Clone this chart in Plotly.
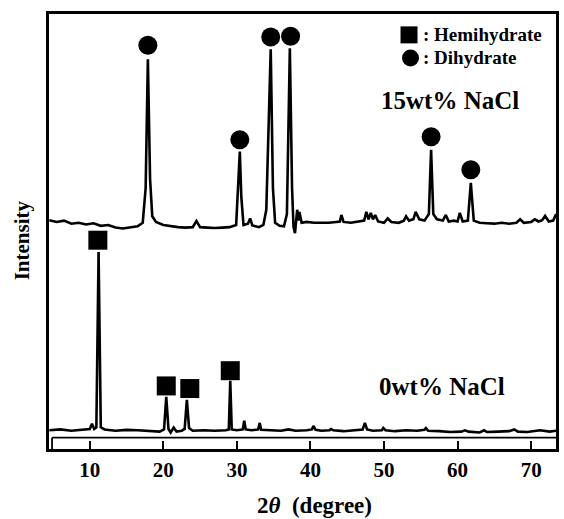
import plotly.graph_objects as go

# ---- data (2theta in degrees, intensity in arbitrary units) ----
top_x = [4.5, 5.5, 6.5, 7.5, 8.5, 9.5, 10.5, 11.5, 12.5, 13.5, 14.5, 15.5, 16.5, 17.2, 17.6, 17.9, 18.2, 18.5,
         19.0, 20.0, 21.0, 22.0, 23.0, 24.0, 24.5, 25.0, 26.0, 27.0, 28.0, 29.0, 29.9, 30.2, 30.4, 30.6, 30.9,
         31.5, 31.8, 32.1, 33.0, 33.6, 34.0, 34.6, 34.9, 35.2, 35.8, 36.4, 36.8, 37.2, 37.5, 37.7, 37.9, 38.2,
         38.35, 38.5, 38.8, 39.5, 40.5, 41.5, 42.5, 43.5, 44.0, 44.2, 44.5, 45.5, 46.5, 47.3, 47.6, 47.9, 48.2,
         48.5, 48.8, 49.2, 50.0, 50.5, 51.0, 52.0, 52.7, 53.0, 53.4, 54.0, 54.3, 54.8, 55.5, 56.1, 56.4, 56.7,
         57.2, 58.0, 58.4, 58.8, 59.5, 60.0, 60.3, 60.7, 61.4, 61.8, 62.2, 63.0, 64.0, 65.0, 66.0, 67.0, 68.0,
         68.5, 69.0, 70.0, 70.5, 71.0, 71.5, 71.9, 72.4, 73.0, 73.4]
top_y = [52.6, 52.2, 52.5, 51.8, 52.0, 51.6, 51.9, 51.3, 51.5, 50.9, 50.7, 51.0, 51.2, 52.0, 60.0, 89.6, 62.0, 53.5,
         52.2, 51.5, 51.2, 51.0, 50.9, 51.0, 52.4, 51.0, 50.9, 50.8, 50.9, 51.0, 51.5, 60.0, 68.4, 58.0, 51.5,
         51.8, 53.0, 51.4, 51.0, 51.5, 55.0, 91.9, 60.0, 52.0, 51.3, 51.2, 54.0, 92.1, 60.0, 51.0, 49.6, 55.0,
         52.5, 54.5, 52.0, 52.2, 52.0, 52.0, 52.0, 52.2, 52.3, 53.8, 52.2, 52.0, 52.2, 52.5, 54.5, 52.8, 54.3,
         52.8, 53.8, 52.3, 52.0, 53.0, 52.2, 52.0, 52.5, 53.5, 52.5, 52.8, 54.5, 52.8, 52.5, 54.0, 68.8, 54.0,
         52.8, 52.5, 53.8, 52.3, 52.5, 52.3, 54.3, 52.3, 52.5, 61.2, 52.5, 52.0, 51.9, 51.8, 52.0, 51.8, 52.0,
         52.8, 52.0, 52.2, 52.8, 52.3, 52.6, 53.6, 52.3, 52.5, 54.0]

bot_x = [4.5, 6.0, 7.5, 9.0, 10.0, 10.3, 10.6, 10.9, 11.2, 11.5, 12.0, 13.5, 15.0, 16.5, 18.0, 19.5, 20.1, 20.4,
         20.7, 21.0, 21.4, 21.8, 22.5, 22.9, 23.2, 23.5, 24.0, 25.5, 27.0, 28.5, 28.9, 29.1, 29.3, 30.0, 30.8,
         31.0, 31.2, 32.0, 32.9, 33.1, 33.3, 34.5, 36.0, 37.0, 38.0, 39.5, 40.2, 40.4, 40.7, 41.5, 42.6, 42.8,
         43.1, 44.5, 46.0, 47.1, 47.4, 47.7, 48.5, 49.7, 49.9, 50.2, 51.5, 53.0, 54.5, 55.5, 55.7, 56.0, 57.5,
         59.0, 60.5, 61.0, 61.5, 63.0, 63.6, 64.0, 65.5, 67.0, 67.7, 68.2, 69.5, 71.2, 72.5, 73.4]
bot_y = [4.3, 4.5, 4.2, 4.4, 4.6, 5.8, 4.6, 5.0, 45.3, 5.0, 4.5, 4.2, 4.4, 4.3, 4.1, 4.0, 4.5, 12.0,
         4.6, 3.8, 4.9, 4.0, 4.2, 4.6, 11.3, 4.8, 4.2, 4.3, 4.2, 4.3, 4.5, 15.7, 4.5, 4.3, 4.5,
         6.5, 4.5, 4.3, 4.5, 6.0, 4.4, 4.3, 4.2, 4.5, 4.2, 4.3, 4.5, 5.3, 4.4, 4.2, 4.3, 4.6,
         4.3, 4.1, 4.3, 4.5, 6.0, 4.5, 4.2, 4.3, 4.8, 4.3, 4.1, 4.3, 4.2, 4.4, 4.8, 4.2, 4.1,
         3.9, 4.0, 4.3, 4.0, 3.8, 4.3, 3.9, 4.0, 4.1, 4.5, 4.0, 3.9, 4.3, 4.0, 4.2]

# phase markers
dihydrate_x = [17.9, 30.4, 34.6, 37.3, 56.4, 61.8]
dihydrate_y = [92.8, 71.1, 94.7, 94.9, 71.8, 64.2]
hemihydrate_x = [11.1, 20.4, 23.6, 29.1]
hemihydrate_y = [48.0, 14.5, 13.9, 18.0]

legend_labels = [": Hemihydrate", ": Dihydrate"]
sample_labels = ["15wt% NaCl", "0wt% NaCl"]
tick_vals = [10, 20, 30, 40, 50, 60, 70]

XMIN, XMAX = 4.46, 73.38
SERIF = "Liberation Serif, Times New Roman, serif"

fig = go.Figure()
fig.add_trace(go.Scatter(x=top_x, y=top_y, mode="lines",
                         line=dict(color="black", width=2.6), hoverinfo="skip"))
fig.add_trace(go.Scatter(x=bot_x, y=bot_y, mode="lines",
                         line=dict(color="black", width=2.6), hoverinfo="skip"))
fig.add_trace(go.Scatter(x=dihydrate_x, y=dihydrate_y, mode="markers",
                         marker=dict(symbol="circle", size=19, color="black"), hoverinfo="skip"))
fig.add_trace(go.Scatter(x=hemihydrate_x, y=hemihydrate_y, mode="markers",
                         marker=dict(symbol="square", size=19, color="black"), hoverinfo="skip"))
# legend keys
fig.add_trace(go.Scatter(x=[53.4], y=[95.2], mode="markers",
                         marker=dict(symbol="square", size=17, color="black"), hoverinfo="skip"))
fig.add_trace(go.Scatter(x=[53.6], y=[89.9], mode="markers",
                         marker=dict(symbol="circle", size=17, color="black"), hoverinfo="skip"))

bold = dict(family=SERIF, color="black", weight="bold")
fig.add_annotation(x=55.0, y=95.2, text=legend_labels[0], showarrow=False, xanchor="left",
                   font=dict(size=19, **bold))
fig.add_annotation(x=55.0, y=89.9, text=legend_labels[1], showarrow=False, xanchor="left",
                   font=dict(size=19, **bold))
fig.add_annotation(x=49.3, y=80.2, text=sample_labels[0], showarrow=False, xanchor="left",
                   font=dict(size=25, **bold))
fig.add_annotation(x=49.0, y=14.3, text=sample_labels[1], showarrow=False, xanchor="left",
                   font=dict(size=25, **bold))
fig.add_annotation(xref="paper", yref="paper", x=0.524, y=-0.129, text="2<i>θ</i>\u00a0\u00a0(degree)",
                   showarrow=False, xanchor="center", yanchor="middle", font=dict(size=23, **bold))
fig.add_annotation(xref="paper", yref="paper", x=-0.053, y=0.48, text="Intensity", textangle=-90,
                   showarrow=False, xanchor="center", yanchor="middle", font=dict(size=21, **bold))

# inner strip above the x axis (double line of the original frame)
fig.add_shape(type="line", xref="paper", yref="y", x0=0.006, x1=1, y0=2.6, y1=2.6,
              line=dict(color="black", width=1.8))
fig.add_shape(type="line", xref="paper", yref="y", x0=0.006, x1=0.006, y0=2.6, y1=0,
              line=dict(color="black", width=1.8))

fig.update_xaxes(range=[XMIN, XMAX], tickvals=tick_vals, ticks="inside", ticklen=8, tickwidth=2,
                 tickcolor="black", showline=True, linecolor="black", linewidth=3, mirror=True,
                 showgrid=False, zeroline=False, tickfont=dict(size=21, **bold))
fig.update_yaxes(range=[0, 100], showticklabels=False, ticks="", showline=True, linecolor="black",
                 linewidth=3, mirror=True, showgrid=False, zeroline=False)
fig.update_layout(width=564, height=519, margin=dict(l=49, r=5, t=14, b=70),
                  plot_bgcolor="white", paper_bgcolor="white", showlegend=False)

fig.write_html("out.html")
